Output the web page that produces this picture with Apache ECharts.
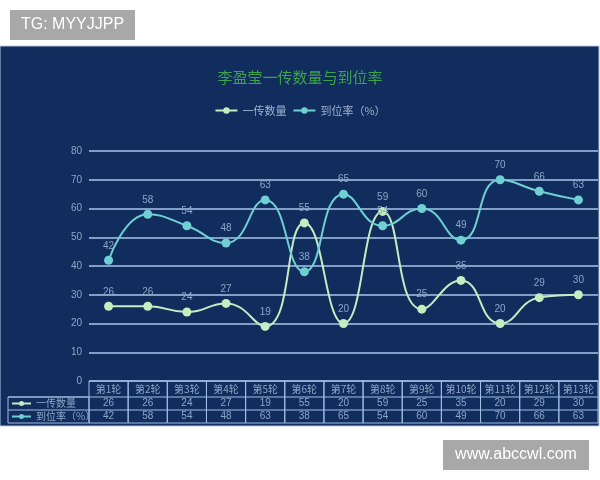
<!DOCTYPE html>
<html>
<head>
<meta charset="utf-8">
<script src="https://cdn.jsdelivr.net/npm/echarts@6/dist/echarts.min.js"></script>
<style>
html,body{margin:0;padding:0;background:#fff;}
#c{width:600px;height:480px;}
</style>
</head>
<body>
<div id="c"></div>
<script>
const categories = ['第1轮','第2轮','第3轮','第4轮','第5轮','第6轮','第7轮','第8轮','第9轮','第10轮','第11轮','第12轮','第13轮'];
const passCount = [26,26,24,27,19,55,20,59,25,35,20,29,30];
const arrivalRate = [42,58,54,48,63,38,65,54,60,49,70,66,63];
const seriesNames = ['一传数量','到位率（%）'];
const legendNames = ['一传数量','到位率（%）'];

const C1 = '#c4edc0';
const C2 = '#6fcfd2';
const TXT = '#8ea5c6';
const BORDER = '#9dbfe2';

const chart = echarts.init(document.getElementById('c'));
chart.setOption({
  backgroundColor: '#ffffff',
  animation: false,
  title: {
    text: '李盈莹一传数量与到位率',
    left: 'center', top: 65,
    textStyle: {color: '#3ea34c', fontSize: 15, fontWeight: 'normal', fontFamily: 'Noto Sans CJK SC'}
  },
  legend: {
    top: 100, left: 'center',
    itemWidth: 22, itemHeight: 8, itemGap: 6,
    textStyle: {color: '#9fb2cf', fontSize: 11, fontFamily: 'Noto Sans CJK SC'},
    data: seriesNames
  },
  grid: {left: 89, right: 2, top: 151, bottom: 99},
  xAxis: {
    type: 'category', data: categories, boundaryGap: true,
    axisLine: {show: false}, axisTick: {show: false}, axisLabel: {show: false},
    splitLine: {show: false}
  },
  yAxis: {
    type: 'value', min: 0, max: 80, interval: 10,
    axisLine: {show: false}, axisTick: {show: false},
    axisLabel: {color: TXT, fontSize: 10, margin: 7},
    splitLine: {lineStyle: {color: '#a9c7e8', width: 1.5}}
  },
  series: [
    {
      name: seriesNames[0], type: 'line', data: passCount, smooth: 0.5,
      symbol: 'circle', symbolSize: 9,
      itemStyle: {color: C1}, lineStyle: {color: C1, width: 2},
      label: {show: true, position: 'top', color: TXT, fontSize: 10}
    },
    {
      name: seriesNames[1], type: 'line', data: arrivalRate, smooth: 0.5,
      symbol: 'circle', symbolSize: 9,
      itemStyle: {color: C2}, lineStyle: {color: C2, width: 2},
      label: {show: true, position: 'top', color: TXT, fontSize: 10}
    }
  ]
});

// Build data table + panel from library coordinates
const cx0 = chart.convertToPixel({xAxisIndex: 0}, categories[0]);
const cx1 = chart.convertToPixel({xAxisIndex: 0}, categories[1]);
const colW = cx1 - cx0;
const tableLeft = cx0 - colW / 2;
const rowY = [381, 397, 410, 423];
const labelLeft = 8;
const g = [];

// panel
g.push({type: 'rect', z: -10, silent: true, shape: {x: 0, y: 46, width: 599, height: 380},
  style: {fill: '#112d5e', stroke: '#b7c6e0', lineWidth: 1}});
// watermarks
g.push({type: 'rect', z: 50, shape: {x: 10, y: 10, width: 125, height: 30}, style: {fill: '#a8a8a8'}});
g.push({type: 'text', z: 51, x: 72.5, y: 25, style: {text: 'TG: MYYJJPP', fill: '#fff', fontSize: 16, fontFamily: 'Liberation Sans', align: 'center', verticalAlign: 'middle'}});
g.push({type: 'rect', z: 50, shape: {x: 443, y: 440, width: 146, height: 30}, style: {fill: '#a8a8a8'}});
g.push({type: 'text', z: 51, x: 516, y: 455, style: {text: 'www.abccwl.com', fill: '#fff', fontSize: 16, fontFamily: 'Liberation Sans', align: 'center', verticalAlign: 'middle'}});

// header row cells
categories.forEach((c, i) => {
  const cx = chart.convertToPixel({xAxisIndex: 0}, c);
  g.push({type: 'rect', z: 5, shape: {x: cx - colW / 2, y: rowY[0], width: colW, height: rowY[3] - rowY[0]},
    style: {fill: 'none', stroke: BORDER, lineWidth: 1}});
  g.push({type: 'text', z: 6, x: cx, y: (rowY[0] + rowY[1]) / 2, style: {text: c, fill: TXT, fontSize: 10, align: 'center', verticalAlign: 'middle', fontFamily: 'Noto Sans CJK SC'}});
  g.push({type: 'text', z: 6, x: cx, y: (rowY[1] + rowY[2]) / 2, style: {text: String(passCount[i]), fill: TXT, fontSize: 10, align: 'center', verticalAlign: 'middle'}});
  g.push({type: 'text', z: 6, x: cx, y: (rowY[2] + rowY[3]) / 2, style: {text: String(arrivalRate[i]), fill: TXT, fontSize: 10, align: 'center', verticalAlign: 'middle'}});
});
// horizontal lines across data rows
[rowY[1], rowY[2]].forEach(y => {
  g.push({type: 'line', z: 5, shape: {x1: labelLeft, y1: y, x2: tableLeft + colW * categories.length, y2: y}, style: {stroke: BORDER, lineWidth: 1}});
});
// row label cells
g.push({type: 'rect', z: 5, shape: {x: labelLeft, y: rowY[1], width: tableLeft - labelLeft, height: rowY[3] - rowY[1]}, style: {fill: 'none', stroke: BORDER, lineWidth: 1}});
const rowColors = [C1, C2];
[0, 1].forEach(r => {
  const y = (rowY[r + 1] + rowY[r + 2]) / 2;
  g.push({type: 'line', z: 6, shape: {x1: 12, y1: y, x2: 31, y2: y}, style: {stroke: rowColors[r], lineWidth: 2}});
  g.push({type: 'circle', z: 7, shape: {cx: 21.5, cy: y, r: 2.5}, style: {fill: rowColors[r]}});
  g.push({type: 'text', z: 6, x: 36, y: y, style: {text: legendNames[r], fill: TXT, fontSize: 10, align: 'left', verticalAlign: 'middle', fontFamily: 'Noto Sans CJK SC'}});
});

chart.setOption({graphic: {elements: g}});
</script>
</body>
</html>
